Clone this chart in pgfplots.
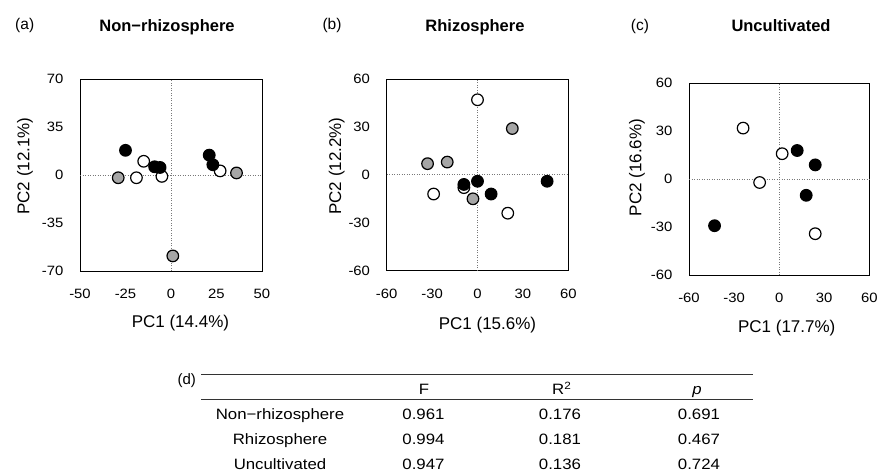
\documentclass[border=0pt]{standalone}
\usepackage{fontspec}
\setmainfont{Liberation Sans}
\newfontfamily\tickfont[FakeStretch=1.1]{Liberation Sans}
\newfontfamily\tabfont[FakeStretch=1.12]{Liberation Sans}
\usepackage{pgfplots}
\pgfplotsset{compat=1.18}
\definecolor{mgray}{RGB}{166,166,166}
\definecolor{zgray}{RGB}{120,120,120}

\pgfplotsset{
  pca/.style={
    scale only axis,
    axis line style={line width=0.9bp, black},
    tick style={draw=none},
    major tick length=0pt,
    /pgf/number format/assume math mode=true,
    ticklabel style={font=\tickfont\fontsize{13.5bp}{15bp}\selectfont},
    xticklabel style={anchor=center, inner sep=0pt, yshift=-23bp},
    yticklabel style={anchor=east, inner sep=0pt, xshift=-16.5bp},
    label style={font=\fontsize{17bp}{20bp}\selectfont},
    clip=false,
  },
  zline/.style={no marks, zgray, line width=0.8bp, dash pattern=on 1bp off 1.5bp, forget plot},
  wpt/.style={only marks, mark=*, mark size=5.8bp, mark options={fill=white, draw=black, line width=1.2bp}},
  gpt/.style={only marks, mark=*, mark size=5.8bp, mark options={fill=mgray, draw=black, line width=1.2bp}},
  bpt/.style={only marks, mark=*, mark size=5.8bp, mark options={fill=black, draw=black, line width=1.2bp}},
}

\begin{document}
\begin{tikzpicture}
\useasboundingbox (0,0) rectangle (881bp,-474bp);

% (a) Non-rhizosphere
\begin{axis}[pca, at={(80bp,-271bp)}, anchor=south west,
  width=182bp, height=192bp,
  xmin=-50, xmax=50, ymin=-70, ymax=70,
  xtick={-50,-25,0,25,50}, ytick={-70,-35,0,35,70},
  xlabel={PC1 (14.4\%)}, ylabel={PC2 (12.1\%)},
  xlabel style={at={(axis description cs:0.552,-0.269)}, anchor=center},
  ylabel style={at={(axis description cs:-0.302,0.547)}, anchor=center}]
\addplot[zline] coordinates {(0,-70) (0,70)};
\addplot[zline] coordinates {(-50,0) (50,0)};
\addplot[wpt] coordinates {(-15,10) (-19,-2) (-5,-1) (27,3)};
\addplot[gpt] coordinates {(-29,-2) (36,1.5) (1,-59)};
\addplot[bpt] coordinates {(-25,18) (21,14.5) (23,7.5) (-9,6) (-6,5.5)};
\end{axis}

% (b) Rhizosphere
\begin{axis}[pca, at={(386.7bp,-270.7bp)}, anchor=south west,
  width=181.6bp, height=191.7bp,
  xmin=-60, xmax=60, ymin=-60, ymax=60,
  xtick={-60,-30,0,30,60}, ytick={-60,-30,0,30,60},
  xlabel={PC1 (15.6\%)}, ylabel={PC2 (12.2\%)},
  xlabel style={at={(axis description cs:0.555,-0.283)}, anchor=center},
  ylabel style={at={(axis description cs:-0.275,0.546)}, anchor=center}]
\addplot[zline] coordinates {(0,-60) (0,60)};
\addplot[zline] coordinates {(-60,0) (60,0)};
\addplot[wpt] coordinates {(0,47) (-29,-12) (-9,-8) (20,-24)};
\addplot[gpt] coordinates {(23,29) (-33,7) (-20,8) (-3,-15)};
\addplot[bpt] coordinates {(-9,-6) (0,-4) (9,-12) (46,-4)};
\end{axis}

% (c) Uncultivated
\begin{axis}[pca, at={(689bp,-275.3bp)}, anchor=south west,
  width=180.3bp, height=192bp,
  xmin=-60, xmax=60, ymin=-60, ymax=60,
  xtick={-60,-30,0,30,60}, ytick={-60,-30,0,30,60},
  xlabel={PC1 (17.7\%)}, ylabel={PC2 (16.6\%)},
  xlabel style={at={(axis description cs:0.542,-0.274)}, anchor=center},
  ylabel style={at={(axis description cs:-0.288,0.561)}, anchor=center}]
\addplot[zline] coordinates {(0,-60) (0,60)};
\addplot[zline] coordinates {(-60,0) (60,0)};
\addplot[wpt] coordinates {(-24,32) (2,16) (-13,-2) (24,-34)};
\addplot[bpt] coordinates {(12,18) (24,9) (18,-10) (-43,-29)};
\end{axis}

% titles and panel letters
\begin{scope}[every node/.style={anchor=base, inner sep=0pt}]
\node[font=\bfseries\fontsize{16.5bp}{20bp}\selectfont] at (167bp,-31bp) {Non−rhizosphere};
\node[font=\bfseries\fontsize{16.5bp}{20bp}\selectfont] at (475bp,-31bp) {Rhizosphere};
\node[font=\bfseries\fontsize{16.5bp}{20bp}\selectfont] at (781bp,-31bp) {Uncultivated};
\node[font=\fontsize{15.5bp}{18bp}\selectfont] at (24.7bp,-29bp) {(a)};
\node[font=\fontsize{15.5bp}{18bp}\selectfont] at (332bp,-29bp) {(b)};
\node[font=\fontsize{15.5bp}{18bp}\selectfont] at (640bp,-30bp) {(c)};

% table (d)
\node[font=\fontsize{15bp}{18bp}\selectfont] at (186.7bp,-384bp) {(d)};
\draw[black!80, line width=0.9bp] (201bp,-374.7bp) -- (753bp,-374.7bp);
\draw[black!80, line width=0.9bp] (201bp,-399bp) -- (753bp,-399bp);
\begin{scope}[every node/.append style={font=\tabfont\fontsize{15bp}{18bp}\selectfont}]
\node at (424bp,-394.3bp) {F};
\node at (561.7bp,-394.3bp) {R\textsuperscript{2}};
\node at (697bp,-394.3bp) {\itshape p};
\node at (280bp,-419.3bp) {Non−rhizosphere};
\node at (280bp,-444.8bp) {Rhizosphere};
\node at (280bp,-469.3bp) {Uncultivated};
\node at (423.5bp,-419.3bp) {0.961};
\node at (423.5bp,-444.8bp) {0.994};
\node at (423.5bp,-469.3bp) {0.947};
\node at (560bp,-419.3bp) {0.176};
\node at (560bp,-444.8bp) {0.181};
\node at (560bp,-469.3bp) {0.136};
\node at (699bp,-419.3bp) {0.691};
\node at (699bp,-444.8bp) {0.467};
\node at (699bp,-469.3bp) {0.724};
\end{scope}
\end{scope}
\end{tikzpicture}
\end{document}
